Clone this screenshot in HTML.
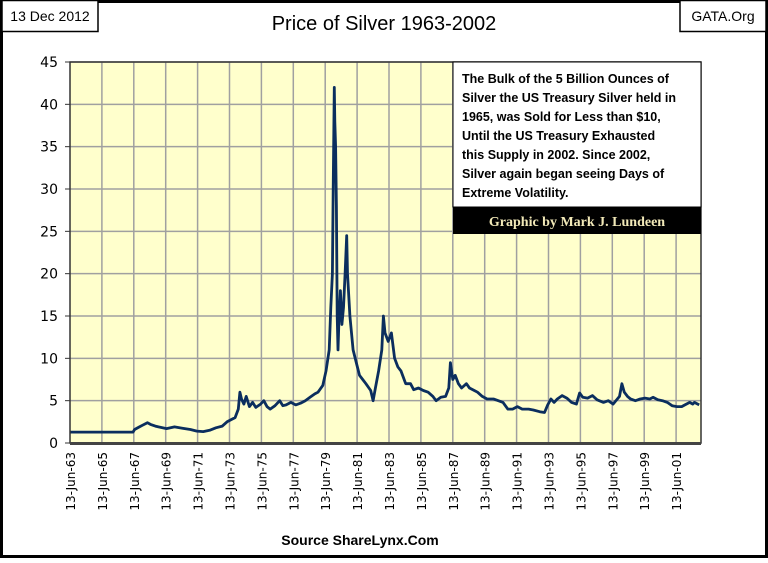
<!DOCTYPE html>
<html><head><meta charset="utf-8"><style>
html,body{margin:0;padding:0;background:#fff;}
body{width:768px;height:558px;overflow:hidden;font-family:"Liberation Sans",sans-serif;}
</style></head><body>
<svg id="c" width="768" height="558" viewBox="0 0 768 558" xmlns="http://www.w3.org/2000/svg">
  <rect x="1.5" y="1.5" width="765" height="555" fill="#fff" stroke="#000" stroke-width="3"/>
  <rect x="2" y="0.5" width="96" height="31" fill="#fff" stroke="#000" stroke-width="1.5"/>
  <text x="50" y="21" text-anchor="middle" font-size="14" fill="#000">13 Dec 2012</text>
  <rect x="680" y="0.5" width="86" height="31" fill="#fff" stroke="#000" stroke-width="1.5"/>
  <text x="723" y="21" text-anchor="middle" font-size="14" fill="#000">GATA.Org</text>
  <text x="384" y="30" text-anchor="middle" font-size="20" fill="#000">Price of Silver 1963-2002</text>
  <rect x="70" y="62" width="631" height="381" fill="#ffffcc"/>
  <g id="grid"></g>
  <g id="yaxis"></g>
  <g id="xaxis"></g>
  <path id="line" fill="none" stroke="#0b2e5e" stroke-width="2.8" stroke-linejoin="round"/>
  <rect x="70" y="62" width="631" height="381" fill="none" stroke="#333" stroke-width="1.5"/>
  <line x1="70" y1="443.5" x2="701" y2="443.5" stroke="#444" stroke-width="3"/>
  <rect x="453" y="62" width="248" height="145" fill="#fff" stroke="#000" stroke-width="1"/>
  <g font-size="12.5" font-weight="bold" fill="#000">
    <text x="462" y="83">The Bulk of the 5 Billion Ounces of</text>
    <text x="462" y="102">Silver the US Treasury Silver held in</text>
    <text x="462" y="121">1965, was Sold for Less than $10,</text>
    <text x="462" y="140">Until the US Treasury Exhausted</text>
    <text x="462" y="159">this Supply in 2002.  Since 2002,</text>
    <text x="462" y="178">Silver again began seeing Days of</text>
    <text x="462" y="197">Extreme Volatility.</text>
  </g>
  <rect x="453" y="207" width="248" height="27" fill="#000"/>
  <text x="577" y="226" text-anchor="middle" font-family="'Liberation Serif',serif" font-weight="bold" font-size="14" fill="#f2e9b8">Graphic by Mark J. Lundeen</text>
  <text x="360" y="545" text-anchor="middle" font-size="14" font-weight="bold" fill="#000">Source ShareLynx.Com</text>
</svg>
<script>
const yTicks = [0,5,10,15,20,25,30,35,40,45];
const xTickLabels = ["13-Jun-63","13-Jun-65","13-Jun-67","13-Jun-69","13-Jun-71","13-Jun-73","13-Jun-75","13-Jun-77","13-Jun-79","13-Jun-81","13-Jun-83","13-Jun-85","13-Jun-87","13-Jun-89","13-Jun-91","13-Jun-93","13-Jun-95","13-Jun-97","13-Jun-99","13-Jun-01"];
const xTickYears = [1963.45,1965.45,1967.45,1969.45,1971.45,1973.45,1975.45,1977.45,1979.45,1981.45,1983.45,1985.45,1987.45,1989.45,1991.45,1993.45,1995.45,1997.45,1999.45,2001.45];
const dates = [1963.45,1967.4,1967.5,1967.8,1968.0,1968.3,1968.5,1968.8,1969.0,1969.5,1970.0,1970.5,1971.0,1971.4,1971.8,1972.2,1972.6,1973.0,1973.3,1973.6,1973.8,1974.0,1974.1,1974.2,1974.35,1974.5,1974.7,1974.9,1975.1,1975.4,1975.6,1975.8,1976.0,1976.3,1976.6,1976.8,1977.0,1977.3,1977.6,1977.9,1978.2,1978.5,1978.8,1979.0,1979.3,1979.5,1979.7,1979.8,1979.9,1979.95,1980.02,1980.05,1980.1,1980.15,1980.2,1980.25,1980.3,1980.4,1980.5,1980.6,1980.7,1980.8,1980.85,1981.0,1981.2,1981.4,1981.6,1981.8,1982.0,1982.3,1982.45,1982.6,1982.8,1983.0,1983.1,1983.2,1983.4,1983.6,1983.8,1984.0,1984.2,1984.5,1984.8,1985.0,1985.3,1985.6,1985.9,1986.2,1986.4,1986.7,1987.0,1987.2,1987.3,1987.45,1987.6,1987.8,1988.0,1988.3,1988.5,1988.8,1989.0,1989.3,1989.6,1990.0,1990.3,1990.6,1990.9,1991.2,1991.5,1991.8,1992.2,1992.5,1992.9,1993.2,1993.4,1993.6,1993.8,1994.0,1994.3,1994.6,1994.9,1995.2,1995.4,1995.6,1995.9,1996.2,1996.5,1996.9,1997.2,1997.5,1997.9,1998.05,1998.2,1998.4,1998.6,1998.9,1999.2,1999.5,1999.8,2000.0,2000.3,2000.6,2000.9,2001.2,2001.5,2001.8,2002.0,2002.3,2002.5,2002.6,2002.9];
const prices = [1.29,1.29,1.6,1.9,2.1,2.4,2.2,2.0,1.9,1.7,1.9,1.75,1.6,1.4,1.35,1.5,1.8,2.0,2.5,2.8,3.0,4.0,6.0,5.2,4.6,5.5,4.3,4.8,4.2,4.6,5.0,4.3,4.0,4.4,5.0,4.4,4.5,4.8,4.5,4.7,5.0,5.4,5.8,6.0,6.8,8.5,11,16,20,30,42,38,35,28,15,11,14,18,14,16,20,24.5,20,15,11,9.5,8,7.5,7,6.2,5.0,6.5,8.5,11,15,13,12,13,10,9,8.5,7,7,6.3,6.5,6.2,6.0,5.5,5.0,5.4,5.5,6.5,9.5,7.5,8,7,6.5,7.0,6.5,6.2,6.0,5.5,5.2,5.2,5.0,4.8,4.0,4.0,4.3,4.0,4.0,3.9,3.7,3.6,4.5,5.2,4.8,5.2,5.6,5.3,4.8,4.6,5.9,5.4,5.3,5.6,5.1,4.8,5.0,4.6,5.5,7.0,6.0,5.5,5.2,5.0,5.2,5.3,5.2,5.4,5.1,5.0,4.8,4.4,4.3,4.3,4.5,4.8,4.6,4.8,4.5];

const NS = "http://www.w3.org/2000/svg";
const X0 = 70, Y0 = 443, PX_PER_YEAR = 15.95, PX_PER_UNIT = 381/45;
function xs(yr){ return X0 + (yr - 1963.45) * PX_PER_YEAR; }
function ys(v){ return Y0 - v * PX_PER_UNIT; }

const grid = document.getElementById('grid');
const yaxis = document.getElementById('yaxis');
const xaxis = document.getElementById('xaxis');

yTicks.forEach(function(t){
  const y = ys(t);
  const gl = document.createElementNS(NS,'line');
  gl.setAttribute('x1', X0); gl.setAttribute('x2', 701);
  gl.setAttribute('y1', y); gl.setAttribute('y2', y);
  gl.setAttribute('stroke', '#a0a0a0'); gl.setAttribute('stroke-width', '1.5');
  
  
  grid.appendChild(gl);
  const tk = document.createElementNS(NS,'line');
  tk.setAttribute('x1', X0-5); tk.setAttribute('x2', X0);
  tk.setAttribute('y1', y); tk.setAttribute('y2', y);
  tk.setAttribute('stroke', '#333'); tk.setAttribute('stroke-width', '1');
  
  
  yaxis.appendChild(tk);
  const tx = document.createElementNS(NS,'text');
  tx.setAttribute('x', 58); tx.setAttribute('y', y + 5);
  tx.setAttribute('text-anchor', 'end'); tx.setAttribute('font-size', '14');
  tx.setAttribute('font-family', 'DejaVu Sans, sans-serif');
  tx.textContent = t;
  
  
  yaxis.appendChild(tx);
});

xTickYears.forEach(function(yr, i){
  const x = xs(yr);
  if (i > 0) {
    const gl = document.createElementNS(NS,'line');
    gl.setAttribute('x1', x); gl.setAttribute('x2', x);
    gl.setAttribute('y1', 62); gl.setAttribute('y2', Y0);
    gl.setAttribute('stroke', '#a0a0a0'); gl.setAttribute('stroke-width', '1.5');
    
    
    grid.appendChild(gl);
  }
  const tx = document.createElementNS(NS,'text');
  tx.setAttribute('transform', 'translate(' + (x + 5) + ',452) rotate(-90)');
  tx.setAttribute('text-anchor', 'end'); tx.setAttribute('font-size', '12');
  tx.setAttribute('font-family', 'DejaVu Sans, sans-serif');
  tx.textContent = xTickLabels[i];
  
  
  xaxis.appendChild(tx);
});

let d = '';
dates.forEach(function(yr, i){
  d += (i ? 'L' : 'M') + xs(yr).toFixed(1) + ' ' + ys(prices[i]).toFixed(1);
});
document.getElementById('line').setAttribute('d', d);
</script>
</body></html>
